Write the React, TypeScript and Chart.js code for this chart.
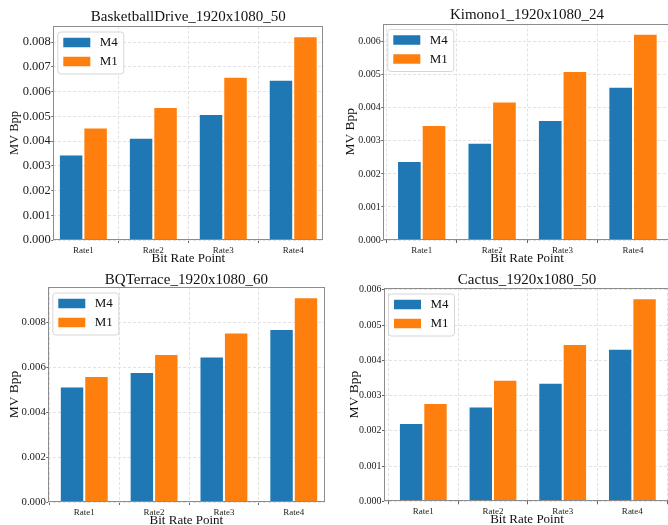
import React, { useEffect, useRef } from 'react';
import { Chart, registerables } from 'chart.js';

Chart.register(...registerables);

// ---------- data ----------
const categories = ['Rate1', 'Rate2', 'Rate3', 'Rate4'];
const seriesNames = ['M4', 'M1'];

const basketballTitle = 'BasketballDrive_1920x1080_50';
const basketballM4 = [0.00346, 0.00413, 0.00509, 0.00648];
const basketballM1 = [0.00455, 0.00538, 0.0066, 0.00824];
const basketballTicks = [0, 0.001, 0.002, 0.003, 0.004, 0.005, 0.006, 0.007, 0.008];
const basketballMax = 0.00865;

const kimonoTitle = 'Kimono1_1920x1080_24';
const kimonoM4 = [0.00239, 0.00294, 0.00363, 0.00464];
const kimonoM1 = [0.00348, 0.00419, 0.00511, 0.00624];
const kimonoTicks = [0, 0.001, 0.002, 0.003, 0.004, 0.005, 0.006];
const kimonoMax = 0.00655;

const bqTitle = 'BQTerrace_1920x1080_60';
const bqM4 = [0.00514, 0.00579, 0.00648, 0.0077];
const bqM1 = [0.00561, 0.00659, 0.00754, 0.00911];
const bqTicks = [0, 0.002, 0.004, 0.006, 0.008];
const bqMax = 0.00957;

const cactusTitle = 'Cactus_1920x1080_50';
const cactusM4 = [0.00222, 0.00269, 0.00336, 0.00433];
const cactusM1 = [0.00279, 0.00345, 0.00446, 0.00576];
const cactusTicks = [0, 0.001, 0.002, 0.003, 0.004, 0.005, 0.006];
const cactusMax = 0.00605;

const xLabel = 'Bit Rate Point';
const yLabel = 'MV Bpp';

// ---------- style ----------
const FONT = '"Liberation Serif", "Times New Roman", serif';
const COLORS = ['#1f77b4', '#ff7f0e'];

type Layout = {
  cx: number; cy: number; cw: number; ch: number;
  L: number; R: number; T: number; B: number;
  xMin: number; xMax: number;
  titleDy: number; xTitleDy: number; yTitleDx: number;
  yTickSize: number; yTitleSize: number;
};

type PanelProps = {
  layout: Layout;
  title: string;
  m4: number[];
  m1: number[];
  yTicks: number[];
  yMax: number;
};

function Panel({ layout, title, m4, m1, yTicks, yMax }: PanelProps) {
  const ref = useRef<HTMLCanvasElement | null>(null);

  useEffect(() => {
    if (!ref.current) return;
    const yW = layout.L - layout.cx;
    const padT = layout.T - layout.cy;
    const padR = layout.cx + layout.cw - layout.R;
    const xH = 20;
    const padB = layout.ch - (layout.B - layout.cy) - xH;

    const decor = {
      id: 'decor',
      afterDraw(chart: any) {
        const { ctx, chartArea: a } = chart;
        ctx.save();
        // frame
        const x0 = Math.round(a.left) + 0.5;
        const y0 = Math.round(a.top) + 0.5;
        const x1 = Math.round(a.right) - 0.5;
        const y1 = Math.round(a.bottom) - 0.5;
        ctx.strokeStyle = '#8c8c8c';
        ctx.lineWidth = 1;
        ctx.strokeRect(x0, y0, x1 - x0, y1 - y0);

        // title
        const cxm = (a.left + a.right) / 2;
        ctx.fillStyle = '#111';
        ctx.textAlign = 'center';
        ctx.textBaseline = 'middle';
        ctx.font = `15px ${FONT}`;
        ctx.fillText(title, cxm, a.top + layout.titleDy);

        // x title
        ctx.font = `13px ${FONT}`;
        ctx.fillText(xLabel, cxm, a.bottom + layout.xTitleDy);

        // y title
        ctx.save();
        ctx.translate(a.left + layout.yTitleDx, (a.top + a.bottom) / 2);
        ctx.rotate(-Math.PI / 2);
        ctx.font = `${layout.yTitleSize}px ${FONT}`;
        ctx.fillText(yLabel, 0, 0);
        ctx.restore();

        // legend
        const bx = a.left + 4.5;
        const by = a.top + 6;
        const bw = 66;
        const bh = 42;
        const r = 3;
        ctx.beginPath();
        ctx.moveTo(bx + r, by);
        ctx.lineTo(bx + bw - r, by);
        ctx.quadraticCurveTo(bx + bw, by, bx + bw, by + r);
        ctx.lineTo(bx + bw, by + bh - r);
        ctx.quadraticCurveTo(bx + bw, by + bh, bx + bw - r, by + bh);
        ctx.lineTo(bx + r, by + bh);
        ctx.quadraticCurveTo(bx, by + bh, bx, by + bh - r);
        ctx.lineTo(bx, by + r);
        ctx.quadraticCurveTo(bx, by, bx + r, by);
        ctx.closePath();
        ctx.fillStyle = 'rgba(255,255,255,0.85)';
        ctx.fill();
        ctx.strokeStyle = '#d6d6d6';
        ctx.stroke();

        const rows = [by + 10.5, by + 29.5];
        ctx.font = `13px ${FONT}`;
        ctx.textAlign = 'left';
        ctx.textBaseline = 'middle';
        seriesNames.forEach((name, i) => {
          ctx.fillStyle = COLORS[i];
          ctx.fillRect(bx + 5.5, rows[i] - 4.75, 27, 9.5);
          ctx.fillStyle = '#111';
          ctx.fillText(name, bx + 42, rows[i] + 0.5);
        });
        ctx.restore();
      },
    };

    const chart = new Chart(ref.current, {
      type: 'bar',
      data: {
        datasets: [
          {
            label: seriesNames[0],
            data: m4.map((v, i) => ({ x: i, y: v })),
            backgroundColor: COLORS[0],
            borderColor: 'rgba(255,255,255,0.22)',
            borderWidth: 1,
          },
          {
            label: seriesNames[1],
            data: m1.map((v, i) => ({ x: i, y: v })),
            backgroundColor: COLORS[1],
            borderColor: 'rgba(255,255,255,0.22)',
            borderWidth: 1,
          },
        ],
      },
      options: {
        animation: false,
        responsive: false,
        devicePixelRatio: 1,
        categoryPercentage: 0.7,
        barPercentage: 1.0,
        layout: { padding: { left: 0, top: padT, right: padR, bottom: padB } },
        plugins: {
          legend: { display: false },
          title: { display: false },
          tooltip: { enabled: false },
        },
        scales: {
          x: {
            type: 'linear',
            offset: false,
            min: layout.xMin,
            max: layout.xMax,
            afterBuildTicks: (s: any) => {
              s.ticks = categories.map((_, i) => ({ value: i }));
            },
            afterFit: (s: any) => {
              s.height = xH;
            },
            ticks: {
              callback: (v: any) => categories[v] ?? '',
              font: { family: FONT, size: 9 },
              color: '#222',
              padding: 2,
              maxRotation: 0,
              autoSkip: false,
            },
            grid: {
              color: '#e2e2e2',
              tickColor: '#666',
              tickLength: 3,
            },
            border: { display: false, dash: [3, 2] },
          },
          y: {
            type: 'linear',
            min: 0,
            max: yMax,
            afterBuildTicks: (s: any) => {
              s.ticks = yTicks.map((v) => ({ value: v }));
            },
            afterFit: (s: any) => {
              s.width = yW;
            },
            ticks: {
              callback: (v: any) => Number(v).toFixed(3),
              font: { family: FONT, size: layout.yTickSize },
              color: '#222',
              padding: 0.5,
              autoSkip: false,
            },
            grid: {
              color: '#e2e2e2',
              tickColor: '#666',
              tickLength: 2,
            },
            border: { display: false, dash: [3, 2] },
          },
        },
      },
      plugins: [decor],
    } as any);

    return () => chart.destroy();
  }, [layout, title, m4, m1, yTicks, yMax]);

  return (
    <canvas
      ref={ref}
      width={layout.cw}
      height={layout.ch}
      style={{
        position: 'absolute',
        left: layout.cx,
        top: layout.cy,
        width: layout.cw,
        height: layout.ch,
      }}
    />
  );
}

const layoutTL: Layout = { cx: 0, cy: 0, cw: 334, ch: 268, L: 53.3, R: 323.3, T: 26, B: 240, xMin: -0.43, xMax: 3.43, titleDy: -9, xTitleDy: 19, yTitleDx: -39, yTickSize: 12.5, yTitleSize: 12.5 };
const layoutTR: Layout = { cx: 334, cy: 0, cw: 340, ch: 268, L: 383.3, R: 670.7, T: 23.5, B: 240, xMin: -0.545, xMax: 3.535, titleDy: -8.5, xTitleDy: 19, yTitleDx: -32.6, yTickSize: 10, yTitleSize: 13.5 };
const layoutBL: Layout = { cx: 0, cy: 262, cw: 334, ch: 263, L: 48.3, R: 324.5, T: 287, B: 502, xMin: -0.515, xMax: 3.44, titleDy: -7, xTitleDy: 18.3, yTitleDx: -34, yTickSize: 10.8, yTitleSize: 13.5 };
const layoutBR: Layout = { cx: 334, cy: 262, cw: 340, ch: 263, L: 384, R: 670, T: 288, B: 501.3, xMin: -0.564, xMax: 3.54, titleDy: -8.2, xTitleDy: 17.8, yTitleDx: -30, yTickSize: 10, yTitleSize: 13.5 };

export default function App() {
  return (
    <div
      style={{
        position: 'fixed',
        left: 0,
        top: 0,
        width: 668,
        height: 525,
        overflow: 'hidden',
        background: '#fff',
      }}
    >
      <Panel layout={layoutTL} title={basketballTitle} m4={basketballM4} m1={basketballM1} yTicks={basketballTicks} yMax={basketballMax} />
      <Panel layout={layoutTR} title={kimonoTitle} m4={kimonoM4} m1={kimonoM1} yTicks={kimonoTicks} yMax={kimonoMax} />
      <Panel layout={layoutBL} title={bqTitle} m4={bqM4} m1={bqM1} yTicks={bqTicks} yMax={bqMax} />
      <Panel layout={layoutBR} title={cactusTitle} m4={cactusM4} m1={cactusM1} yTicks={cactusTicks} yMax={cactusMax} />
    </div>
  );
}
